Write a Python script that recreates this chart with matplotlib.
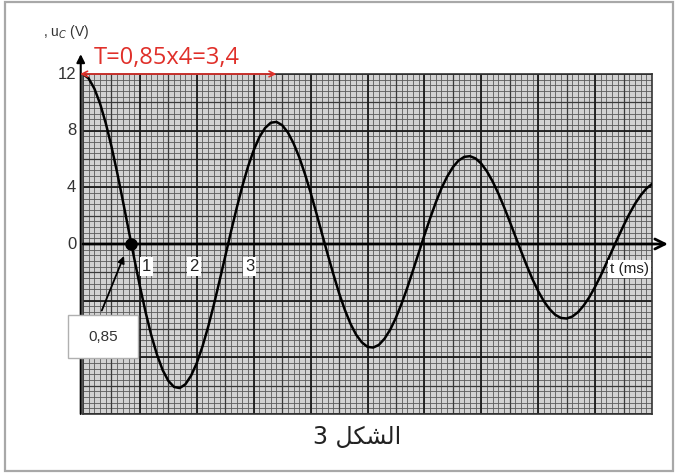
import numpy as np
import matplotlib
matplotlib.use("Agg")
import matplotlib.pyplot as plt
from matplotlib.patches import Rectangle

# u_C(t) (t in ms, u in V)
t_ms = [0.0, 0.1, 0.2, 0.3, 0.4, 0.5, 0.6, 0.7, 0.8, 0.9,
        1.0, 1.1, 1.2, 1.3, 1.4, 1.5, 1.6, 1.7, 1.8, 1.9,
        2.0, 2.1, 2.2, 2.3, 2.4, 2.5, 2.6, 2.7, 2.8, 2.9,
        3.0, 3.1, 3.2, 3.3, 3.4, 3.5, 3.6, 3.7, 3.8, 3.9,
        4.0, 4.1, 4.2, 4.3, 4.4, 4.5, 4.6, 4.7, 4.8, 4.9,
        5.0, 5.1, 5.2, 5.3, 5.4, 5.5, 5.6, 5.7, 5.8, 5.9,
        6.0, 6.1, 6.2, 6.3, 6.4, 6.5, 6.6, 6.7, 6.8, 6.9,
        7.0, 7.1, 7.2, 7.3, 7.4, 7.5, 7.6, 7.7, 7.8, 7.9,
        8.0, 8.1, 8.2, 8.3, 8.4, 8.5, 8.6, 8.7, 8.8, 8.9,
        9.0, 9.1, 9.2, 9.3, 9.4, 9.5, 9.6, 9.7, 9.8, 9.9, 10.0]
u_c = [12.0, 11.68, 10.97, 9.91, 8.53, 6.89, 5.05, 3.06, 1.02, -1.01,
       -2.98, -4.81, -6.44, -7.81, -8.90, -9.66, -10.09, -10.17, -9.90, -9.29,
       -8.40, -7.23, -5.84, -4.28, -2.59, -0.87, 0.86, 2.52, 4.08, 5.46,
       6.62, 7.55, 8.19, 8.56, 8.62, 8.39, 7.88, 7.11, 6.13, 4.95,
       3.63, 2.20, 0.73, -0.73, -2.13, -3.46, -4.63, -5.62, -6.40, -6.94,
       -7.26, -7.31, -7.12, -6.68, -6.04, -5.20, -4.20, -3.08, -1.86, -0.62,
       0.62, 1.81, 2.93, 3.93, 4.76, 5.42, 5.89, 6.15, 6.20, 6.04,
       5.67, 5.12, 4.41, 3.56, 2.61, 1.58, 0.53, -0.52, -1.54, -2.49,
       -3.33, -4.04, -4.60, -5.00, -5.22, -5.26, -5.12, -4.81, -4.34, -3.74,
       -3.02, -2.22, -1.34, -0.45, 0.44, 1.30, 2.11, 2.83, 3.43, 3.91, 4.24]

y_ticks = [0, 4, 8, 12]
x_ticks = [1, 2, 3]
x_tick_pos = [1.12, 1.95, 2.93]   # where the labels sit on the paper
t_zero = 0.85
period = 3.4
u_max = 12

fig = plt.figure(figsize=(6.78, 4.73), dpi=100)
fig.patch.set_facecolor("white")

# outer grey frame
fig.patches.append(Rectangle((5 / 678, 2 / 473), 668 / 678, 469 / 473,
                             transform=fig.transFigure, fill=False,
                             edgecolor="#a8a8a8", lw=1.6))

ax = fig.add_axes([83 / 678, 59 / 473, 569 / 678, 340 / 473])
ax.set_xlim(0, 10)
ax.set_ylim(-12, 12)
ax.set_facecolor("#d2d2d2")

# millimetre paper
for x in np.arange(0, 10.01, 0.1):
    ax.axvline(x, color="#5a5a5a", lw=0.6, zorder=1)
for y in np.arange(-12, 12.01, 0.4):
    ax.axhline(y, color="#5a5a5a", lw=0.6, zorder=1)
for x in np.arange(0.5, 10, 1):
    ax.axvline(x, color="#3a3a3a", lw=0.9, zorder=1)
for y in np.arange(-10, 12, 4):
    ax.axhline(y, color="#3a3a3a", lw=0.9, zorder=1)
for x in range(1, 10):
    ax.axvline(x, color="#1a1a1a", lw=1.3, zorder=1)
for y in range(-12, 13, 4):
    ax.axhline(y, color="#1a1a1a", lw=1.3, zorder=1)
ax.set_xticks([])
ax.set_yticks([])
for s in ax.spines.values():
    s.set_color("#333333")
    s.set_linewidth(1.2)

# axes with arrows
ax.annotate("", xy=(10.28, 0), xytext=(0, 0), annotation_clip=False,
            arrowprops=dict(arrowstyle="->", color="black", lw=2,
                            mutation_scale=18, shrinkA=0, shrinkB=0), zorder=4)
ax.annotate("", xy=(-0.04, 13.4), xytext=(-0.04, -12), annotation_clip=False,
            arrowprops=dict(arrowstyle="-|>", color="black", lw=1.5,
                            mutation_scale=12, shrinkA=0, shrinkB=0), zorder=4)

# curve
ax.plot(t_ms, u_c, color="black", lw=1.8, zorder=5)
ax.plot([t_zero], [0], "o", color="black", ms=8, zorder=6)

# tick labels
for v in y_ticks:
    ax.text(-0.12, v, str(v), ha="right", va="center", fontsize=12,
            color="#333333", family="Liberation Sans")
for lab, x in zip(x_ticks, x_tick_pos):
    ax.text(x, -1.6, str(lab), ha="center", va="center", fontsize=12,
            color="#222222", family="Liberation Sans", zorder=7,
            bbox=dict(facecolor="white", edgecolor="none", pad=1.5))
ax.text(9.6, -1.75, "t (ms)", ha="center", va="center", fontsize=11,
        color="#222222", family="Liberation Sans", zorder=7,
        bbox=dict(facecolor="white", edgecolor="none", pad=1.5))
fig.text(43 / 678, 1 - 32 / 473, r", u$_C$ (V)", ha="left", va="center",
         fontsize=10, color="#333333", family="Liberation Sans")

# period annotation
ax.annotate("", xy=(period, u_max), xytext=(-0.05, u_max), annotation_clip=False,
            arrowprops=dict(arrowstyle="<->", color="#e0302a", lw=1.2,
                            mutation_scale=10, shrinkA=0, shrinkB=0), zorder=8)
fig.text(94 / 678, 1 - 58 / 473, "T=0,85x4=3,4", ha="left", va="center",
         fontsize=17, color="#e0302a", family="Open Sans")

# 0,85 box with arrow to the crossing point
fig.patches.append(Rectangle((68 / 678, 1 - 358 / 473), 70 / 678, 43 / 473,
                             transform=fig.transFigure, facecolor="white",
                             edgecolor="#b0b0b0", lw=1, zorder=9))
fig.text(103 / 678, 1 - 337 / 473, "0,85", ha="center", va="center",
         fontsize=11, color="#333333", family="Liberation Sans", zorder=10)
ax.annotate("", xy=(0.72, -0.85), xytext=(0.33, -4.7), annotation_clip=False,
            arrowprops=dict(arrowstyle="-|>", color="black", lw=1.3,
                            mutation_scale=10, shrinkA=0, shrinkB=0), zorder=8)

# caption "الشكل 3" (shaped glyphs in visual order)
fig.text(357 / 678, 1 - 437 / 473, "3 \uFEDE\uFEDC\uFEB8\uFEDF\uFE8D",
         ha="center", va="center", fontsize=17, color="#222222",
         family="DejaVu Sans")

fig.savefig("out.png", dpi=100)
